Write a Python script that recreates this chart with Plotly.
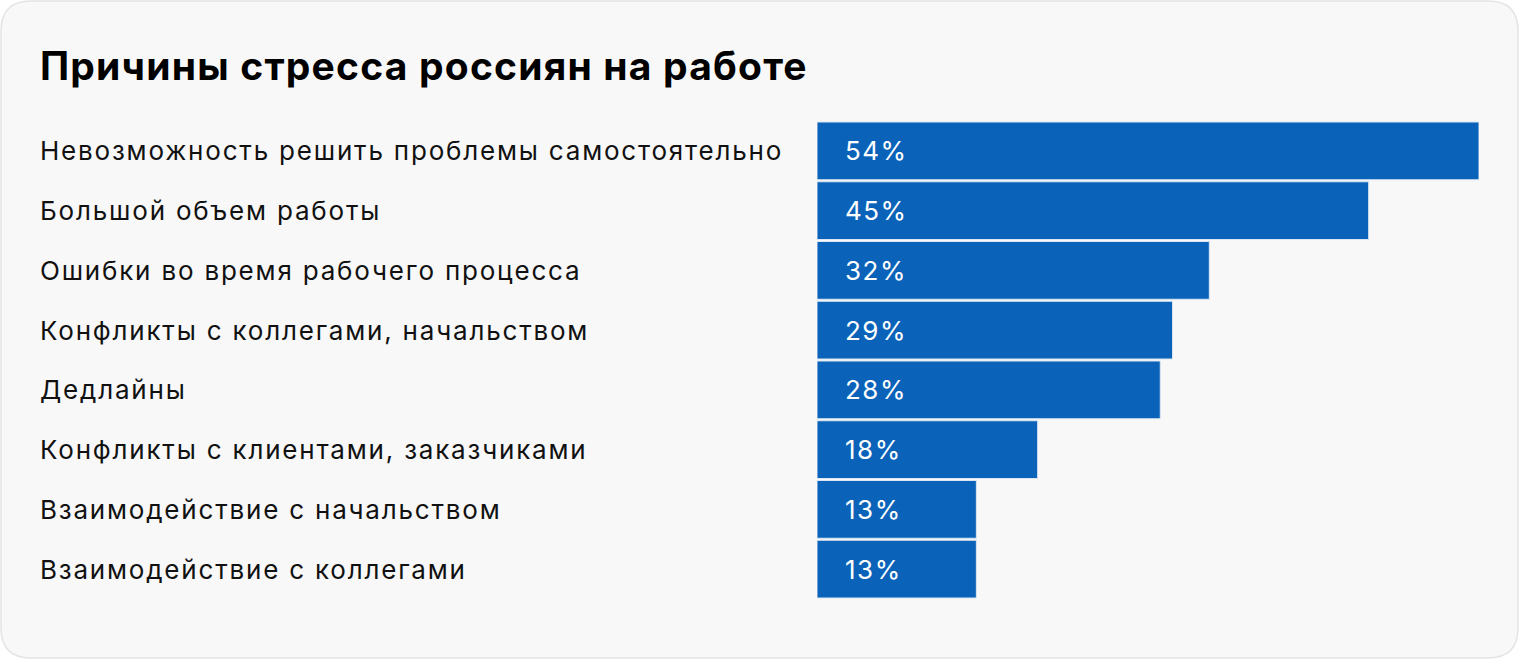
import plotly.graph_objects as go

categories = [
    "Невозможность решить проблемы самостоятельно",
    "Большой объем работы",
    "Ошибки во время рабочего процесса",
    "Конфликты с коллегами, начальством",
    "Дедлайны",
    "Конфликты с клиентами, заказчиками",
    "Взаимодействие с начальством",
    "Взаимодействие с коллегами",
]
values = [54, 45, 32, 29, 28, 18, 13, 13]
value_labels = [f"{v}%" for v in values]
title = "Причины стресса россиян на работе"

W, H = 1520, 660
FONT = "Inter"
BLUE = "#0a63b9"

fig = go.Figure()
fig.add_trace(go.Bar(
    x=values, y=categories, orientation="h",
    marker=dict(color=BLUE, line=dict(color="#dbe6f2", width=1)),
    hoverinfo="skip",
))

# rounded card (paper == full figure since margins are 0)
def px(x):
    return x / W

def py(y):
    return 1 - y / H

r = 30
x0, y0, x1, y1 = 1, 1, W - 2, H - 2
pts = [
    ("M", [(x0 + r, y0)]),
    ("L", [(x1 - r, y0)]),
    ("Q", [(x1, y0), (x1, y0 + r)]),
    ("L", [(x1, y1 - r)]),
    ("Q", [(x1, y1), (x1 - r, y1)]),
    ("L", [(x0 + r, y1)]),
    ("Q", [(x0, y1), (x0, y1 - r)]),
    ("L", [(x0, y0 + r)]),
    ("Q", [(x0, y0), (x0 + r, y0)]),
]
path = " ".join(cmd + " " + " ".join(f"{px(a):.6f},{py(b):.6f}" for a, b in p) for cmd, p in pts) + " Z"
fig.add_shape(type="path", path=path, xref="paper", yref="paper",
              fillcolor="#f8f8f8", line=dict(color="#e4e4e4", width=1.5),
              layer="below")

def spaced(t, ls):
    return f'<span style="letter-spacing:{ls}px">{t}</span>'

annotations = []
for c, lab in zip(categories, value_labels):
    annotations.append(dict(x=px(38), xref="paper", y=c, yref="y", text=spaced(c, 1.8),
                            xanchor="left", yanchor="middle", showarrow=False,
                            font=dict(family=FONT, size=26, color="#111111")))
    annotations.append(dict(x=0, xref="x", y=c, yref="y", text=spaced(lab, 1.5), xshift=26,
                            xanchor="left", yanchor="middle", showarrow=False,
                            font=dict(family=FONT, size=26, color="white")))
annotations.append(dict(x=px(38), xref="paper", y=py(65), yref="paper",
                        text=f"<b>{spaced(title, 1.2)}</b>",
                        xanchor="left", yanchor="middle", showarrow=False,
                        font=dict(family=FONT, size=39, color="#000000")))

fig.update_layout(
    width=W, height=H,
    margin=dict(l=0, r=0, t=0, b=0),
    paper_bgcolor="white", plot_bgcolor="rgba(0,0,0,0)",
    showlegend=False,
    bargap=2 / 60,
    xaxis=dict(domain=[817 / W, 1479 / W], range=[0, 54], visible=False, fixedrange=True),
    yaxis=dict(domain=[1 - 599 / H, 1 - 121 / H], categoryorder="array",
               categoryarray=categories, autorange="reversed",
               visible=False, fixedrange=True),
    annotations=annotations,
)

fig.write_html("out.html", config={"displayModeBar": False},
               post_script="document.body.style.margin='0';")
